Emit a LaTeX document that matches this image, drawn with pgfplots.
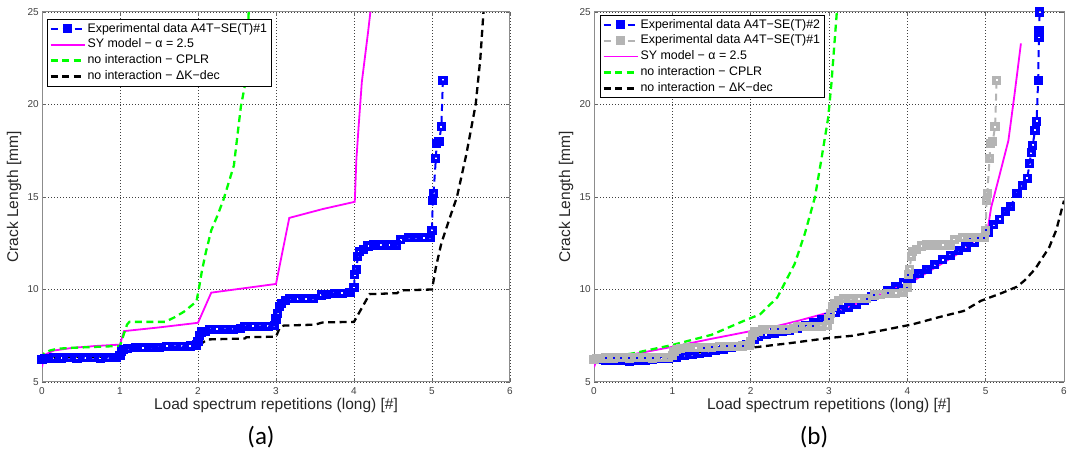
\documentclass[border=0pt]{standalone}
\usepackage{fontspec}
\setmainfont{Liberation Sans}
\newfontfamily\calib{Carlito}
\usepackage{pgfplots}
\usepackage{pgfplotstable}
\pgfplotsset{compat=1.18}

\definecolor{mblue}{RGB}{0,0,255}
\definecolor{mmag}{RGB}{255,0,255}
\definecolor{mgreen}{RGB}{0,255,0}
\definecolor{mgray}{RGB}{180,180,180}

% Experimental data A4T-SE(T)#1
\pgfplotstableread{
x y
0.00 6.20
0.03 6.25
0.08 6.28
0.15 6.30
0.25 6.30
0.35 6.32
0.45 6.30
0.55 6.32
0.65 6.32
0.75 6.30
0.85 6.32
0.95 6.32
1.00 6.45
1.02 6.65
1.05 6.75
1.10 6.80
1.20 6.85
1.30 6.85
1.40 6.85
1.50 6.88
1.60 6.92
1.70 6.92
1.80 6.92
1.90 6.95
1.98 7.00
2.00 7.20
2.02 7.50
2.05 7.70
2.10 7.75
2.15 7.85
2.25 7.85
2.35 7.85
2.45 7.85
2.55 7.90
2.60 8.00
2.70 8.00
2.80 8.00
2.90 8.00
2.98 8.05
3.00 8.40
3.02 8.70
3.04 9.10
3.07 9.25
3.12 9.40
3.18 9.50
3.28 9.50
3.38 9.50
3.48 9.50
3.58 9.70
3.65 9.75
3.75 9.80
3.85 9.80
3.95 9.85
4.00 10.10
4.01 10.80
4.03 11.10
4.05 11.80
4.07 12.05
4.12 12.15
4.18 12.35
4.25 12.40
4.35 12.40
4.45 12.40
4.55 12.40
4.60 12.70
4.70 12.80
4.80 12.80
4.90 12.80
4.98 12.80
5.00 13.20
5.01 14.80
5.02 15.20
5.05 17.10
5.06 17.90
5.09 18.00
5.12 18.80
5.14 21.30
}\expA

% Experimental data A4T-SE(T)#2
\pgfplotstableread{
x y
0.00 6.20
0.05 6.20
0.15 6.18
0.25 6.15
0.35 6.15
0.45 6.13
0.55 6.15
0.65 6.18
0.75 6.20
0.85 6.25
0.95 6.28
1.05 6.35
1.15 6.42
1.25 6.48
1.35 6.55
1.45 6.62
1.55 6.70
1.65 6.78
1.75 6.85
1.85 6.92
1.95 7.00
2.05 7.30
2.10 7.45
2.20 7.55
2.30 7.65
2.40 7.72
2.50 7.78
2.60 7.90
2.70 8.05
2.80 8.20
2.90 8.35
3.00 8.50
3.08 8.75
3.15 8.90
3.25 9.05
3.35 9.20
3.45 9.40
3.55 9.60
3.65 9.75
3.75 9.95
3.85 10.15
3.95 10.35
4.05 10.60
4.15 10.85
4.25 11.10
4.35 11.35
4.45 11.60
4.55 11.85
4.65 12.10
4.75 12.30
4.85 12.55
4.95 12.80
5.03 13.10
5.10 13.50
5.18 13.80
5.25 14.20
5.32 14.50
5.40 15.20
5.47 15.60
5.53 16.00
5.56 16.80
5.58 17.40
5.60 17.80
5.63 18.60
5.65 19.10
5.67 21.30
5.68 23.60
5.68 24.00
5.69 25.00
}\expB

\pgfplotsset{
  cstyle/.style={
    scale only axis, width=468bp, height=370bp,
    xmin=0, xmax=6, ymin=5, ymax=25,
    xtick={0,1,2,3,4,5,6}, ytick={5,10,15,20,25},
    grid=major,
    major grid style={black!75, line width=0.6bp, dash pattern=on 0.8bp off 2.2bp},
    axis line style={black!45, line width=1bp},
    tick align=inside, major tick length=4bp,
    tick style={black!60, line width=0.7bp},
    ticklabel style={font=\fontsize{10bp}{12bp}\selectfont, text=black!75},
    xticklabel style={inner sep=1bp, yshift=-4bp},
    yticklabel style={inner sep=3bp},
    /pgf/number format/assume math mode=true,
    xlabel={Load spectrum repetitions (long) [\#]},
    ylabel={Crack Length [mm]},
    label style={font=\fontsize{15.5bp}{18bp}\selectfont, text=black!85},
    xlabel style={at={([yshift=-28bp]axis description cs:0.5,0)}, anchor=base},
    ylabel style={at={([xshift=-28bp]axis description cs:0,0.5)}, anchor=center},
    legend cell align=left,
    legend style={anchor=north west, font=\fontsize{12.4bp}{15bp}\selectfont,
      draw=black, line width=0.7bp, fill=white,
      nodes={inner sep=1.9bp, text height=9.3bp, text depth=2.8bp},
      inner xsep=2bp, inner ysep=1.5bp},
    legend image code/.code={\draw[mark repeat=2,mark phase=2,#1] plot coordinates {(0bp,0bp) (17bp,0bp) (34bp,0bp)};},
  },
  expstyle/.style={dash pattern=on 7bp off 5bp, line width=2bp, mark=square, mark size=2.8bp, mark options={solid, line width=3.6bp}},
  dstyle/.style={dash pattern=on 7bp off 4.5bp, line width=2.3bp},
}

\begin{document}
\begin{tikzpicture}

% ---------------- (a) ----------------
\begin{axis}[cstyle, at={(42bp,68bp)}, anchor=south west,
  legend style={at={(0,1)}, xshift=5bp, yshift=-7bp}]
\addplot[mblue, expstyle] table[x=x,y=y] {\expA};
\addlegendentry{Experimental data A4T−SE(T)\#1}
\addplot[mmag, line width=1.8bp] coordinates {
(0,5.8) (0.02,6.3) (0.05,6.5) (0.15,6.7) (0.4,6.85) (0.7,6.95) (1.0,7.02)
(1.05,7.75) (1.5,7.95) (2.0,8.2) (2.17,9.83) (3.0,10.3) (3.17,13.87)
(3.6,14.35) (4.01,14.74) (4.03,17.0) (4.06,18.85) (4.1,21.2) (4.18,23.9) (4.21,25)};
\addlegendentry{SY model − α = 2.5}
\addplot[mgreen, dstyle] coordinates {
(0,6.2) (0.03,6.55) (0.1,6.7) (0.2,6.8) (0.4,6.85) (0.7,6.9) (1.0,6.95)
(1.05,7.6) (1.09,8.1) (1.12,8.25) (1.58,8.25) (1.7,8.5) (1.82,8.8) (1.98,9.35)
(2.01,10.0) (2.05,11.0) (2.1,12.0) (2.17,13.2) (2.25,14.0) (2.33,14.9) (2.46,16.7)
(2.55,19.9) (2.6,21.0) (2.63,23.0) (2.65,25.0)};
\addlegendentry{no interaction − CPLR}
\addplot[black, dstyle] coordinates {
(0,6.3) (0.2,6.35) (0.5,6.35) (0.95,6.38) (1.0,6.45) (1.05,6.65) (1.2,6.7)
(1.5,6.72) (1.6,6.8) (2.0,6.82) (2.05,7.1) (2.12,7.3) (2.6,7.35) (2.62,7.42)
(3.0,7.45) (3.05,7.95) (3.1,8.05) (3.5,8.1) (3.6,8.22) (4.0,8.25) (4.1,9.0)
(4.2,9.75) (4.55,9.8) (4.6,9.95) (5.0,10.0) (5.05,11.2) (5.12,12.5) (5.23,13.9)
(5.32,15.0) (5.44,17.3) (5.56,20.0) (5.62,22.5) (5.66,25.0)};
\addlegendentry{no interaction − ΔK−dec}
\end{axis}

% ---------------- (b) ----------------
\begin{axis}[cstyle, at={(594bp,68bp)}, anchor=south west, width=470bp,
  legend style={at={(0,1)}, xshift=6bp, yshift=-3bp}]
\addplot[mblue, expstyle] table[x=x,y=y] {\expB};
\addlegendentry{Experimental data A4T−SE(T)\#2}
\addplot[mgray, expstyle] table[x=x,y=y] {\expA};
\addlegendentry{Experimental data A4T−SE(T)\#1}
\addplot[mmag, line width=1.8bp] coordinates {
(0,5.8) (0.03,6.15) (0.2,6.3) (0.5,6.5) (1.0,6.9) (1.47,7.31) (2.0,7.75)
(2.34,8.03) (2.6,8.3) (2.99,8.75) (3.3,9.15) (3.64,9.7) (4.07,10.45)
(4.5,11.55) (4.75,12.2) (4.94,13.0) (5.03,13.36) (5.07,14.44) (5.16,15.9)
(5.29,18.05) (5.37,20.6) (5.45,23.3)};
\addlegendentry{SY model − α = 2.5}
\addplot[mgreen, dstyle] coordinates {
(0,6.2) (0.5,6.55) (1.0,7.0) (1.5,7.55) (1.91,8.3) (2.12,8.66) (2.34,9.57)
(2.56,11.37) (2.69,13.0) (2.82,14.98) (2.9,16.97) (2.99,19.3) (3.03,21.1) (3.1,25)};
\addlegendentry{no interaction − CPLR}
\addplot[black, dstyle] coordinates {
(0,6.2) (0.5,6.35) (1.0,6.5) (1.5,6.65) (2.0,6.85) (2.5,7.1) (3.0,7.38)
(3.3,7.5) (3.64,7.76) (4.07,8.12) (4.4,8.5) (4.72,8.84) (4.94,9.39) (5.2,9.8)
(5.4,10.15) (5.5,10.5) (5.63,11.1) (5.81,12.27) (5.9,13.2) (6.0,14.8)};
\addlegendentry{no interaction − ΔK−dec}
\end{axis}

\node[inner sep=0pt, font=\calib\fontsize{25bp}{30bp}\selectfont] at (261bp,13bp) {(a)};
\node[inner sep=0pt, font=\calib\fontsize{25bp}{30bp}\selectfont] at (814bp,13bp) {(b)};

\pgfresetboundingbox
\path (0bp,0bp) rectangle (1072bp,450bp);
\end{tikzpicture}
\end{document}
